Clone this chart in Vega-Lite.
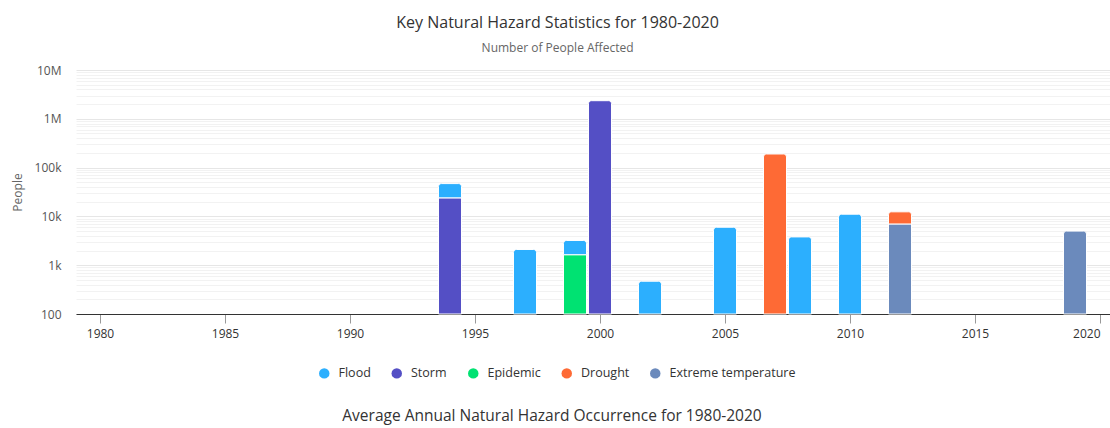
{
  "$schema": "https://vega.github.io/schema/vega-lite/v6.json",
  "padding": {"left": 11, "top": 15, "right": 0, "bottom": 0},
  "spacing": 29,
  "resolve": {"scale": {"color": "independent"}, "legend": {"color": "independent"}},
  "config": {
    "font": "Open Sans",
    "view": {"stroke": null}
  },
  "datasets": {
    "hazards": [
      {"year": 1994, "type": "Storm", "people": 24000},
      {"year": 1994, "type": "Flood", "people": 23000},
      {"year": 1997, "type": "Flood", "people": 2100},
      {"year": 1999, "type": "Epidemic", "people": 1640},
      {"year": 1999, "type": "Flood", "people": 1570},
      {"year": 2000, "type": "Storm", "people": 2350000},
      {"year": 2002, "type": "Flood", "people": 470},
      {"year": 2005, "type": "Flood", "people": 6000},
      {"year": 2007, "type": "Drought", "people": 190000},
      {"year": 2008, "type": "Flood", "people": 3800},
      {"year": 2010, "type": "Flood", "people": 11100},
      {"year": 2012, "type": "Extreme temperature", "people": 7000},
      {"year": 2012, "type": "Drought", "people": 5400},
      {"year": 2019, "type": "Extreme temperature", "people": 5000}
    ]
  },
  "vconcat": [
    {
      "width": 1034,
      "height": 244,
      "data": {"name": "hazards"},
      "title": {
        "text": "Key Natural Hazard Statistics for 1980-2020",
        "subtitle": "Number of People Affected",
        "frame": "bounds",
        "anchor": "middle",
        "dx": -3,
        "fontSize": 16,
        "fontWeight": "normal",
        "color": "#333333",
        "subtitleFontSize": 12,
        "subtitleColor": "#666666",
        "subtitlePadding": 12,
        "offset": 10
      },
      "transform": [
        {"stack": "people", "groupby": ["year"], "sort": [{"field": "people", "order": "descending"}], "as": ["p0", "p1"]},
        {"joinaggregate": [{"op": "max", "field": "p1", "as": "top"}], "groupby": ["year"]}
      ],
      "encoding": {
        "x": {
          "field": "year",
          "type": "quantitative",
          "scale": {"domain": [1979.04, 2020.4], "nice": false, "zero": false, "padding": 0},
          "axis": {
            "title": null,
            "values": [1980, 1985, 1990, 1995, 2000, 2005, 2010, 2015, 2020],
            "format": "d",
            "grid": false,
            "domainColor": "#333333",
            "tickColor": "#999999",
            "tickSize": 9,
            "labelFontSize": 12,
            "labelColor": "#333333",
            "labelPadding": 5,
            "labelFlush": 15
          }
        },
        "y": {
          "field": "p1",
          "type": "quantitative",
          "scale": {"type": "log", "domain": [100, 10000000], "clamp": true, "nice": false},
          "axis": {
            "title": "People",
            "titleFontSize": 12,
            "titleFontWeight": "normal",
            "titleColor": "#666666",
            "titlePadding": 10,
            "values": [100,200,300,400,500,600,700,800,900,1000,2000,3000,4000,5000,6000,7000,8000,9000,10000,20000,30000,40000,50000,60000,70000,80000,90000,100000,200000,300000,400000,500000,600000,700000,800000,900000,1000000,2000000,3000000,4000000,5000000,6000000,7000000,8000000,9000000,10000000],
            "format": "~s",
            "labelExpr": "indexof([100,1000,10000,100000,1000000,10000000], datum.value) >= 0 ? datum.label : ''",
            "domain": false,
            "ticks": false,
            "grid": true,
            "gridColor": {"condition": {"test": "indexof([100,1000,10000,100000,1000000,10000000], datum.value) >= 0", "value": "#e6e6e6"}, "value": "#f2f2f2"},
            "labelFontSize": 12,
            "labelColor": "#555555",
            "labelPadding": 15
          }
        },
        "y2": {"field": "p0"},
        "color": {
          "field": "type",
          "type": "nominal",
          "scale": {
            "domain": ["Flood", "Storm", "Epidemic", "Drought", "Extreme temperature"],
            "range": ["#2caffe", "#544fc5", "#00e272", "#fe6a35", "#6b8abc"]
          },
          "legend": {
            "title": null,
            "orient": "none",
            "legendX": 242,
            "legendY": 297,
            "direction": "horizontal",
            "symbolType": "circle",
            "symbolSize": 110,
            "symbolStrokeWidth": 0,
            "labelFontSize": 12.5,
            "labelColor": "#333333",
            "labelOffset": 8,
            "columnPadding": 19.5
          }
        }
      },
      "layer": [
        {
          "transform": [{"filter": "datum.p1 < datum.top"}],
          "mark": {"type": "bar", "width": 23, "stroke": "white", "strokeWidth": 1}
        },
        {
          "transform": [{"filter": "datum.p1 >= datum.top"}],
          "mark": {"type": "bar", "width": 23, "cornerRadiusTopLeft": 3, "cornerRadiusTopRight": 3, "stroke": "white", "strokeWidth": 1}
        }
      ]
    },
    {
      "width": 1034,
      "height": 1,
      "data": {"values": [{}]},
      "title": {
        "text": "Average Annual Natural Hazard Occurrence for 1980-2020",
        "anchor": "middle",
        "dx": -41,
        "fontSize": 15.5,
        "fontWeight": "normal",
        "color": "#333333",
        "offset": 0
      },
      "mark": {"type": "text"},
      "encoding": {"text": {"value": ""}}
    }
  ]
}
